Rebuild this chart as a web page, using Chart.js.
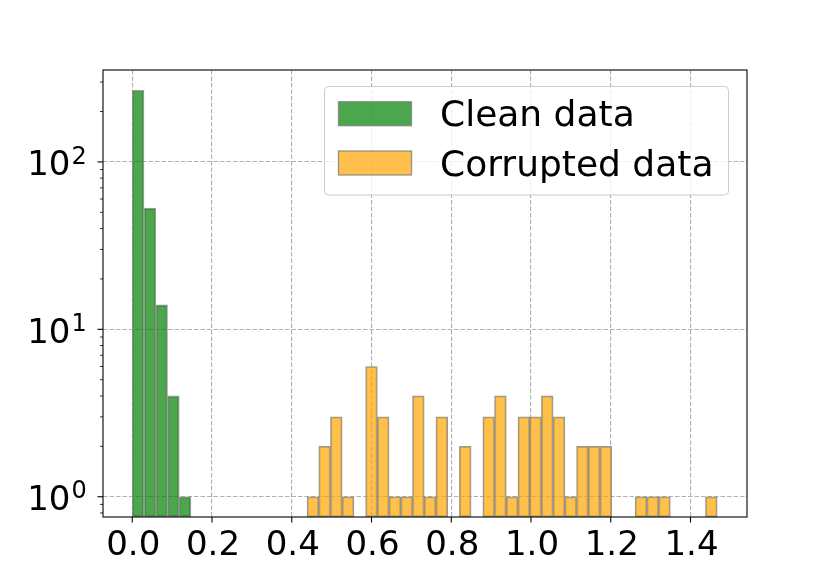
<!DOCTYPE html>
<html><head><meta charset="utf-8">
<script src="https://cdn.jsdelivr.net/npm/chart.js@4/dist/chart.umd.min.js"></script>
<style>html,body{margin:0;padding:0;background:#fff}#wrap{width:830px;height:581px;position:relative}</style>
</head><body><div id="wrap"><canvas id="c" width="830" height="581" style="width:830px;height:581px"></canvas></div>
<script>
// ---- data ----
const seriesLabels = ['Clean data', 'Corrupted data'];
const cleanBinStart = 0.0;
const cleanBinWidth = 0.02945;
const cleanCounts = [268, 53, 14, 4, 1];
const corruptBinStart = 0.4383;
const corruptBinWidth = 0.02939;
const corruptCounts = [1,2,3,1,0,6,3,1,1,4,1,3,0,2,0,3,4,1,3,3,4,3,1,2,2,2,0,0,1,1,1,0,0,0,1];
const xTickValues = [0, 0.2, 0.4, 0.6, 0.8, 1.0, 1.2, 1.4];
const xTickLabels = ['0.0', '0.2', '0.4', '0.6', '0.8', '1.0', '1.2', '1.4'];
const yMajorTicks = [1, 10, 100];
const yMajorExponents = ['0', '1', '2'];
const yMinorTicks = [0.8, 0.9, 2, 3, 4, 5, 6, 7, 8, 9, 20, 30, 40, 50, 60, 70, 80, 90, 200, 300];
const xLimits = [-0.0734, 1.5417];
const yLimits = [0.7568, 354];

// ---- build ----
function histPoints(start, width, counts) {
  return counts.map((c, i) => ({ x: start + (i + 0.5) * width, y: c > 0 ? c : null }));
}
const colors = {
  clean: 'rgba(0,128,0,0.7)',
  corrupt: 'rgba(255,165,0,0.7)',
  edge: 'rgba(128,128,128,0.8)'
};
const FONT = '"DejaVu Sans", "Liberation Sans", sans-serif';

const drawExtras = {
  id: 'drawExtras',
  afterDraw(chart) {
    const ctx = chart.ctx;
    const a = chart.chartArea;
    const xs = chart.scales.x, ys = chart.scales.y;
    ctx.save();
    // frame
    ctx.strokeStyle = '#000';
    ctx.lineWidth = 1.1;
    ctx.setLineDash([]);
    ctx.strokeRect(a.left, a.top, a.right - a.left, a.bottom - a.top);
    // x ticks + labels
    ctx.fillStyle = '#000';
    ctx.font = '34px ' + FONT;
    ctx.textAlign = 'center';
    ctx.textBaseline = 'alphabetic';
    xTickValues.forEach((v, i) => {
      const px = xs.getPixelForValue(v);
      ctx.beginPath(); ctx.moveTo(px, a.bottom); ctx.lineTo(px, a.bottom + 5.5); ctx.stroke();
      ctx.fillText(xTickLabels[i], px + 1, a.bottom + 38);
    });
    // y major ticks + labels
    yMajorTicks.forEach((v, i) => {
      const py = ys.getPixelForValue(v);
      ctx.lineWidth = 1.1;
      ctx.beginPath(); ctx.moveTo(a.left, py); ctx.lineTo(a.left - 5.5, py); ctx.stroke();
      ctx.font = '34px ' + FONT;
      ctx.textAlign = 'right';
      ctx.fillText('10', 70.5, py + 13.5);
      ctx.font = '24px ' + FONT;
      ctx.textAlign = 'left';
      ctx.fillText(yMajorExponents[i], 71.5, py + 1.6);
    });
    // y minor ticks
    ctx.lineWidth = 0.8;
    yMinorTicks.forEach(v => {
      const py = ys.getPixelForValue(v);
      if (py < a.top || py > a.bottom) return;
      ctx.beginPath(); ctx.moveTo(a.left, py); ctx.lineTo(a.left - 3, py); ctx.stroke();
    });
    // legend
    const lx = 324.5, ly = 86.5, lw = 404, lh = 108.5;
    ctx.beginPath();
    ctx.roundRect(lx, ly, lw, lh, 4);
    ctx.fillStyle = 'rgba(255,255,255,0.8)';
    ctx.fill();
    ctx.strokeStyle = '#cccccc';
    ctx.lineWidth = 1;
    ctx.stroke();
    const entries = [
      { label: chart.data.datasets[0].label, fill: chart.data.datasets[0].backgroundColor, y: 101.7 },
      { label: chart.data.datasets[1].label, fill: chart.data.datasets[1].backgroundColor, y: 151 }
    ];
    ctx.font = '36px ' + FONT;
    ctx.textAlign = 'left';
    entries.forEach(e => {
      ctx.fillStyle = e.fill;
      ctx.fillRect(338.5, e.y, 73, 24);
      ctx.strokeStyle = colors.edge;
      ctx.lineWidth = 1.3;
      ctx.strokeRect(338.5, e.y, 73, 24);
      ctx.fillStyle = '#000';
      ctx.fillText(e.label, 440, e.y + 24.5);
    });
    ctx.restore();
  }
};

const gridColor = '#b0b0b0';
new Chart(document.getElementById('c'), {
  type: 'bar',
  data: {
    datasets: [
      { label: seriesLabels[0], data: histPoints(cleanBinStart, cleanBinWidth, cleanCounts),
        backgroundColor: colors.clean, borderColor: colors.edge, borderWidth: 1.3,
        grouped: false, barPercentage: 1, categoryPercentage: 1, borderSkipped: false },
      { label: seriesLabels[1], data: histPoints(corruptBinStart, corruptBinWidth, corruptCounts),
        backgroundColor: colors.corrupt, borderColor: colors.edge, borderWidth: 1.3,
        grouped: false, barPercentage: 1, categoryPercentage: 1, borderSkipped: false }
    ]
  },
  options: {
    responsive: false,
    maintainAspectRatio: false,
    animation: false,
    devicePixelRatio: 1,
    layout: { padding: { left: 103, right: 83, top: 70, bottom: 64 } },
    plugins: { legend: { display: false }, tooltip: { enabled: false } },
    scales: {
      x: {
        type: 'linear', min: xLimits[0], max: xLimits[1], offset: false, z: 1,
        afterBuildTicks: s => { s.ticks = xTickValues.map(v => ({ value: v })); },
        afterFit: s => { s.height = 0; },
        ticks: { display: false },
        border: { display: false, dash: [4.5, 2] },
        grid: { offset: false, drawTicks: false, color: gridColor, lineWidth: 1.1 }
      },
      y: {
        type: 'logarithmic', min: yLimits[0], max: yLimits[1], z: 1,
        afterBuildTicks: s => { s.ticks = yMajorTicks.map(v => ({ value: v })); },
        afterFit: s => { s.width = 0; },
        ticks: { display: false },
        border: { display: false, dash: [4.5, 2] },
        grid: { drawTicks: false, color: gridColor, lineWidth: 1.1 }
      }
    }
  },
  plugins: [drawExtras]
});
</script>
</body></html>
